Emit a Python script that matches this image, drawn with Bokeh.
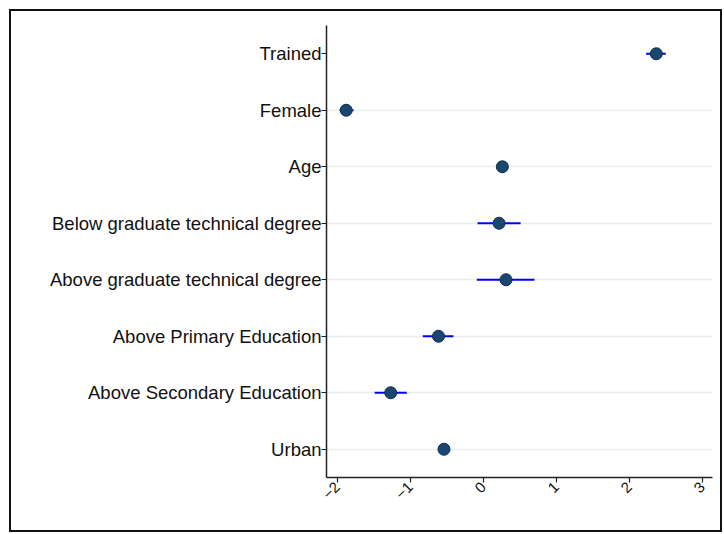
from bokeh.plotting import figure
from bokeh.models import FixedTicker, Range1d, ColumnDataSource
from bokeh.layouts import column
from bokeh.embed import file_html
from bokeh.resources import INLINE
import math

# Data (top to bottom as displayed)
categories = ["Trained", "Female", "Age", "Below graduate technical degree",
              "Above graduate technical degree", "Above Primary Education",
              "Above Secondary Education", "Urban"]
estimates = [2.37, -1.88, 0.26, 0.215, 0.31, -0.615, -1.27, -0.54]
ci_low = [2.23, -1.97, 0.22, -0.08, -0.09, -0.83, -1.49, -0.58]
ci_high = [2.50, -1.78, 0.30, 0.51, 0.70, -0.41, -1.05, -0.50]
x_ticks = [-2, -1, 0, 1, 2, 3]

n = len(categories)
ypos = [n - i for i in range(n)]

src = ColumnDataSource(dict(y=ypos, est=estimates, lo=ci_low, hi=ci_high, cat=categories))

p = figure(width=709, height=519, output_backend="svg", toolbar_location=None,
           x_range=Range1d(-2.15, 3.14), y_range=Range1d(0.5, n + 0.5),
           min_border_left=315, min_border_right=8, min_border_top=14, min_border_bottom=53)
p.outline_line_color = None
p.background_fill_color = "white"
p.border_fill_color = "white"

# grid
p.xgrid.visible = False
p.ygrid.ticker = FixedTicker(ticks=ypos[1:])
p.ygrid.grid_line_color = "#e6eef0"
p.ygrid.grid_line_width = 1.5

# CI and points
p.segment(x0="lo", x1="hi", y0="y", y1="y", source=src, line_color="#0000ff", line_width=2)
p.scatter(x="est", y="y", source=src, size=12, fill_color="#1a476f",
          line_color="#0f2d4a", line_width=1)

# y axis
p.yaxis.ticker = FixedTicker(ticks=ypos)
p.yaxis.major_label_overrides = {y: c for y, c in zip(ypos, categories)}
p.yaxis.minor_tick_line_color = None
p.yaxis.major_tick_in = 0
p.yaxis.major_tick_out = 5
p.yaxis.major_label_standoff = 0
p.yaxis.major_label_text_font = "Liberation Sans"
p.yaxis.major_label_text_font_size = "18.5px"
p.yaxis.major_label_text_color = "#111111"
p.yaxis.axis_line_color = "#222222"
p.yaxis.axis_line_width = 1.5
p.yaxis.major_tick_line_color = "#222222"
p.yaxis.major_tick_line_width = 1.2

# x axis
p.xaxis.ticker = FixedTicker(ticks=x_ticks)
p.xaxis.minor_tick_line_color = None
p.xaxis.major_tick_in = 0
p.xaxis.major_tick_out = 5
p.xaxis.major_label_standoff = 2
p.xaxis.major_label_orientation = math.pi / 4
p.xaxis.major_label_text_font = "Liberation Sans"
p.xaxis.major_label_text_font_size = "15px"
p.xaxis.major_label_text_color = "#111111"
p.xaxis.axis_line_color = "#222222"
p.xaxis.axis_line_width = 1.5
p.xaxis.major_tick_line_color = "#222222"
p.xaxis.major_tick_line_width = 1.2

layout = column(p, styles={"border": "2px solid #111111", "margin-left": "9px",
                           "margin-top": "9px", "background": "white"})

open("out.html", "w").write(file_html(layout, INLINE))
